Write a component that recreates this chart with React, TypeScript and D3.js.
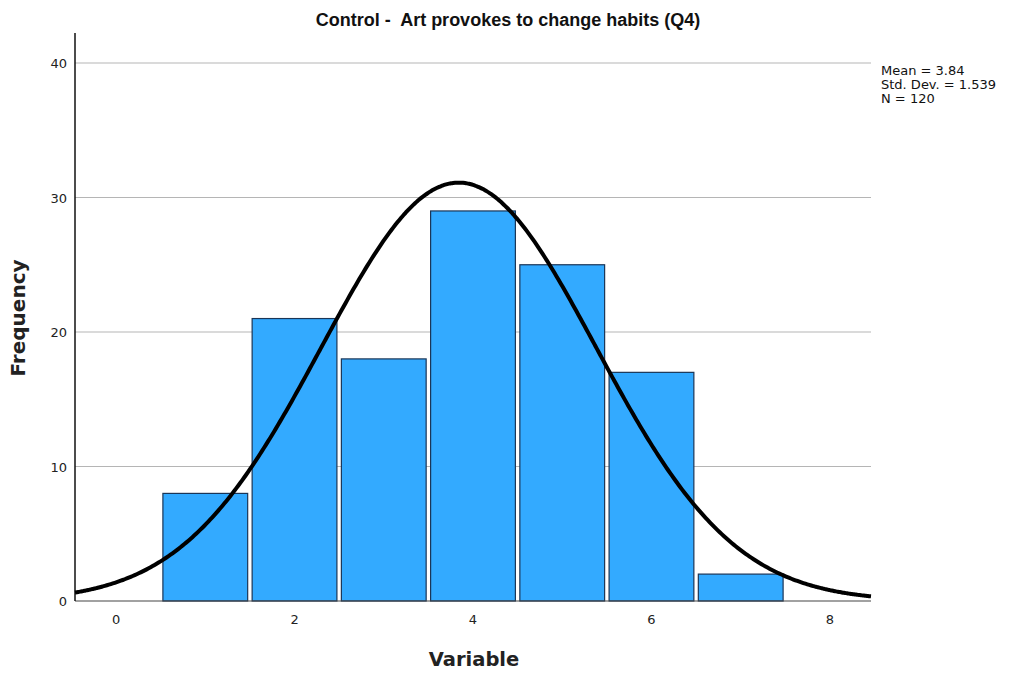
import React from "react";
import * as d3 from "d3";

const categories = [1, 2, 3, 4, 5, 6, 7];
const frequencies = [8, 21, 18, 29, 25, 17, 2];
const yTicks = [0, 10, 20, 30, 40];
const xTicks = [0, 2, 4, 6, 8];
const mean = 3.84;
const stdDev = 1.539;
const n = 120;
const title = "Control -  Art provokes to change habits (Q4)";
const statsLines = ["Mean = 3.84", "Std. Dev. = 1.539", "N = 120"];

const W = 1013;
const H = 675;
const left = 75;
const right = 871;
const top = 33;
const bottom = 601;

export default function App() {
  const x = d3.scaleLinear().domain([-0.46, 8.46]).range([left, right]);
  const y = d3.scaleLinear().domain([0, 40]).range([bottom, 63]);
  const barHalf = 0.475;

  const pdf = (v: number) =>
    (n / (stdDev * Math.sqrt(2 * Math.PI))) *
    Math.exp(-0.5 * Math.pow((v - mean) / stdDev, 2));
  const pts = d3.range(0, 401).map((i) => -0.46 + (8.92 * i) / 400);
  const line = d3
    .line<number>()
    .x((v) => x(v))
    .y((v) => y(pdf(v)))
    .curve(d3.curveBasis);

  const font = "'Liberation Sans', Arial, sans-serif";
  const font2 = "'DejaVu Sans', Verdana, sans-serif";

  return (
    <svg
      width={W}
      height={H}
      style={{ position: "absolute", left: 0, top: 0, background: "#fff" }}
      fontFamily={font}
    >
      <text
        x={508}
        y={26}
        textAnchor="middle"
        fontSize={18}
        fontWeight="bold"
        fill="#111"
        style={{ whiteSpace: "pre" }}
        xmlSpace="preserve"
      >
        {title}
      </text>
      {yTicks.map((t) => (
        <g key={t}>
          {t > 0 && (
            <line x1={left} x2={right} y1={y(t)} y2={y(t)} stroke="#b5b5b5" strokeWidth={1} />
          )}
          <text x={67} y={y(t) + 5} textAnchor="end" fontSize={13} fill="#222" fontFamily={font2}>
            {t}
          </text>
        </g>
      ))}
      {categories.map((c, i) => (
        <rect
          key={c}
          x={x(c - barHalf)}
          y={y(frequencies[i])}
          width={x(c + barHalf) - x(c - barHalf)}
          height={y(0) - y(frequencies[i])}
          fill="#33aaff"
          stroke="#1a3557"
          strokeWidth={1.2}
        />
      ))}
      <line x1={left} x2={right} y1={bottom} y2={bottom} stroke="#444" strokeWidth={1.2} />
      <line x1={left} x2={left} y1={top} y2={bottom} stroke="#111" strokeWidth={1.5} />
      <path d={line(pts) || ""} fill="none" stroke="#000" strokeWidth={4} />
      {xTicks.map((t) => (
        <text key={t} x={x(t)} y={624} textAnchor="middle" fontSize={13} fill="#222" fontFamily={font2}>
          {t}
        </text>
      ))}
      <text
        x={474}
        y={666}
        textAnchor="middle"
        fontSize={19.5}
        fontWeight="bold"
        fill="#222"
        fontFamily={font2}
      >
        Variable
      </text>
      <text
        transform={`translate(25,${318}) rotate(-90)`}
        textAnchor="middle"
        fontSize={20}
        fontWeight="bold"
        fill="#222"
        fontFamily={font2}
      >
        Frequency
      </text>
      {statsLines.map((s, i) => (
        <text key={s} x={881} y={75 + i * 14} fontSize={13} fill="#111" fontFamily={font2}>
          {s}
        </text>
      ))}
    </svg>
  );
}
